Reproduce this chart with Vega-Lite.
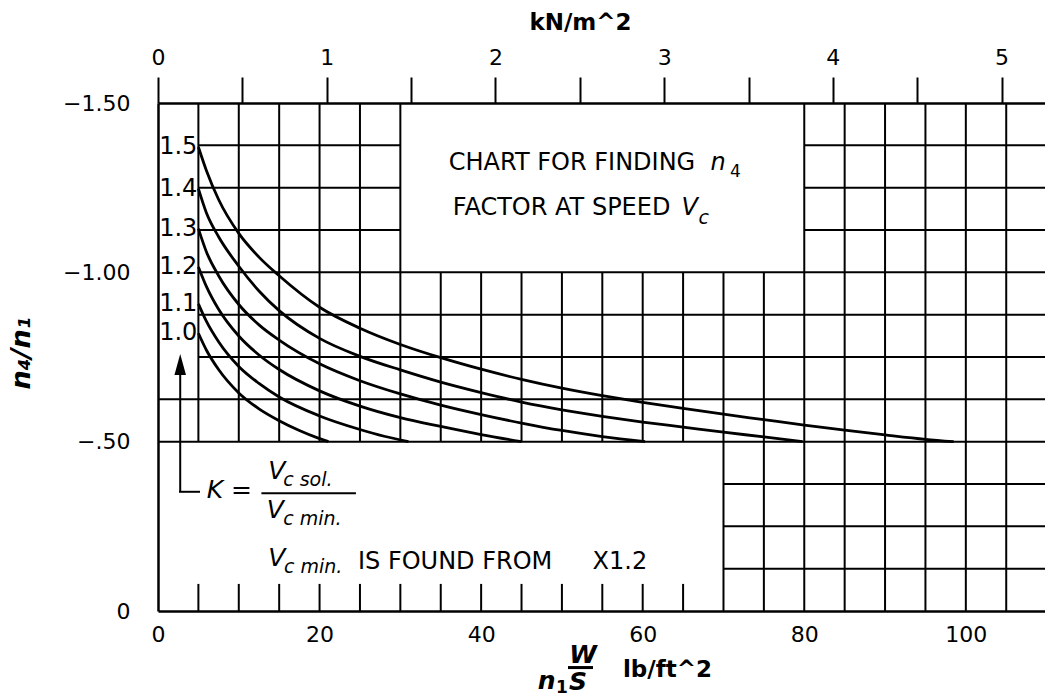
{
  "$schema": "https://vega.github.io/schema/vega-lite/v6.json",
  "width": 887,
  "height": 508,
  "autosize": {"type": "none"},
  "padding": {"left": 158, "top": 103, "right": 0, "bottom": 88},
  "background": "white",
  "config": {
    "view": {"stroke": null},
    "axis": {"domainColor": "#000", "domainWidth": 2.5, "labelColor": "#000", "labelFont": "DejaVu Sans", "titleFont": "DejaVu Sans", "titleColor": "#000", "grid": false, "tickColor": "#000", "labelFlush": false, "labelOverlap": false, "labelBound": false}
  },
  "resolve": {"axis": {"x": "independent", "y": "independent"}},
  "datasets": {
    "hgrid": [
      {"y": -1.375, "x": 5, "x2": 30}, {"y": -1.375, "x": 80, "x2": 109.8},
      {"y": -1.25, "x": 5, "x2": 30}, {"y": -1.25, "x": 80, "x2": 109.8},
      {"y": -1.125, "x": 5, "x2": 30}, {"y": -1.125, "x": 80, "x2": 109.8},
      {"y": -1.0, "x": 5, "x2": 109.8},
      {"y": -0.875, "x": 5, "x2": 109.8},
      {"y": -0.75, "x": 5, "x2": 109.8},
      {"y": -0.625, "x": 0, "x2": 109.8},
      {"y": -0.5, "x": 0, "x2": 109.8},
      {"y": -0.375, "x": 70, "x2": 109.8},
      {"y": -0.25, "x": 70, "x2": 109.8},
      {"y": -0.125, "x": 70, "x2": 109.8}
    ],
    "vgrid": [
      {"x": 5, "y": -1.5, "y2": -0.5}, {"x": 10, "y": -1.5, "y2": -0.5}, {"x": 15, "y": -1.5, "y2": -0.5},
      {"x": 20, "y": -1.5, "y2": -0.5}, {"x": 25, "y": -1.5, "y2": -0.5}, {"x": 30, "y": -1.5, "y2": -0.5},
      {"x": 35, "y": -1.0, "y2": -0.5}, {"x": 40, "y": -1.0, "y2": -0.5}, {"x": 45, "y": -1.0, "y2": -0.5},
      {"x": 50, "y": -1.0, "y2": -0.5}, {"x": 55, "y": -1.0, "y2": -0.5}, {"x": 60, "y": -1.0, "y2": -0.5},
      {"x": 65, "y": -1.0, "y2": -0.5}, {"x": 70, "y": -1.0, "y2": 0}, {"x": 75, "y": -1.0, "y2": 0},
      {"x": 80, "y": -1.5, "y2": 0}, {"x": 85, "y": -1.5, "y2": 0}, {"x": 90, "y": -1.5, "y2": 0},
      {"x": 95, "y": -1.5, "y2": 0}, {"x": 100, "y": -1.5, "y2": 0}, {"x": 105, "y": -1.5, "y2": 0}
    ],
    "ticks": [
      {"x": 5, "y": 0, "y2": -0.08}, {"x": 10, "y": 0, "y2": -0.08}, {"x": 15, "y": 0, "y2": -0.08},
      {"x": 20, "y": 0, "y2": -0.08}, {"x": 25, "y": 0, "y2": -0.08}, {"x": 30, "y": 0, "y2": -0.08},
      {"x": 35, "y": 0, "y2": -0.08}, {"x": 40, "y": 0, "y2": -0.08}, {"x": 45, "y": 0, "y2": -0.08},
      {"x": 50, "y": 0, "y2": -0.08}, {"x": 55, "y": 0, "y2": -0.08}, {"x": 60, "y": 0, "y2": -0.08},
      {"x": 65, "y": 0, "y2": -0.08}
    ],
    "curves": [
      {"K": 1.5, "x": 5, "y": -1.37}, {"K": 1.5, "x": 6, "y": -1.30}, {"K": 1.5, "x": 7.5, "y": -1.215},
      {"K": 1.5, "x": 10, "y": -1.115}, {"K": 1.5, "x": 12.5, "y": -1.045}, {"K": 1.5, "x": 15, "y": -0.99},
      {"K": 1.5, "x": 20, "y": -0.897}, {"K": 1.5, "x": 25, "y": -0.835}, {"K": 1.5, "x": 30, "y": -0.787},
      {"K": 1.5, "x": 35, "y": -0.748}, {"K": 1.5, "x": 40, "y": -0.714}, {"K": 1.5, "x": 45, "y": -0.684},
      {"K": 1.5, "x": 50, "y": -0.658}, {"K": 1.5, "x": 55, "y": -0.636}, {"K": 1.5, "x": 60, "y": -0.616},
      {"K": 1.5, "x": 65, "y": -0.598}, {"K": 1.5, "x": 70, "y": -0.581}, {"K": 1.5, "x": 75, "y": -0.565},
      {"K": 1.5, "x": 80, "y": -0.549}, {"K": 1.5, "x": 85, "y": -0.534}, {"K": 1.5, "x": 90, "y": -0.52},
      {"K": 1.5, "x": 95, "y": -0.507}, {"K": 1.5, "x": 98.5, "y": -0.5},
      {"K": 1.4, "x": 5, "y": -1.247}, {"K": 1.4, "x": 6, "y": -1.175}, {"K": 1.4, "x": 7.5, "y": -1.105},
      {"K": 1.4, "x": 10, "y": -1.018}, {"K": 1.4, "x": 12.5, "y": -0.945}, {"K": 1.4, "x": 15, "y": -0.887},
      {"K": 1.4, "x": 20, "y": -0.805}, {"K": 1.4, "x": 25, "y": -0.752}, {"K": 1.4, "x": 30, "y": -0.712},
      {"K": 1.4, "x": 35, "y": -0.676}, {"K": 1.4, "x": 40, "y": -0.645}, {"K": 1.4, "x": 45, "y": -0.617},
      {"K": 1.4, "x": 50, "y": -0.594}, {"K": 1.4, "x": 55, "y": -0.575}, {"K": 1.4, "x": 60, "y": -0.558},
      {"K": 1.4, "x": 65, "y": -0.543}, {"K": 1.4, "x": 70, "y": -0.528}, {"K": 1.4, "x": 75, "y": -0.514},
      {"K": 1.4, "x": 79.8, "y": -0.5},
      {"K": 1.3, "x": 5, "y": -1.129}, {"K": 1.3, "x": 6, "y": -1.06}, {"K": 1.3, "x": 7.5, "y": -0.99},
      {"K": 1.3, "x": 10, "y": -0.905}, {"K": 1.3, "x": 12.5, "y": -0.845}, {"K": 1.3, "x": 15, "y": -0.80},
      {"K": 1.3, "x": 20, "y": -0.73}, {"K": 1.3, "x": 25, "y": -0.68}, {"K": 1.3, "x": 30, "y": -0.641},
      {"K": 1.3, "x": 35, "y": -0.608}, {"K": 1.3, "x": 40, "y": -0.58}, {"K": 1.3, "x": 45, "y": -0.555},
      {"K": 1.3, "x": 50, "y": -0.533}, {"K": 1.3, "x": 55, "y": -0.515}, {"K": 1.3, "x": 60.3, "y": -0.5},
      {"K": 1.2, "x": 5, "y": -1.016}, {"K": 1.2, "x": 6, "y": -0.958}, {"K": 1.2, "x": 7.5, "y": -0.891},
      {"K": 1.2, "x": 10, "y": -0.812}, {"K": 1.2, "x": 12.5, "y": -0.756}, {"K": 1.2, "x": 15, "y": -0.713},
      {"K": 1.2, "x": 20, "y": -0.65}, {"K": 1.2, "x": 25, "y": -0.605}, {"K": 1.2, "x": 30, "y": -0.571},
      {"K": 1.2, "x": 35, "y": -0.545}, {"K": 1.2, "x": 40, "y": -0.521}, {"K": 1.2, "x": 45, "y": -0.5},
      {"K": 1.1, "x": 5, "y": -0.907}, {"K": 1.1, "x": 6, "y": -0.855}, {"K": 1.1, "x": 7.5, "y": -0.795},
      {"K": 1.1, "x": 10, "y": -0.722}, {"K": 1.1, "x": 12.5, "y": -0.672}, {"K": 1.1, "x": 15, "y": -0.632},
      {"K": 1.1, "x": 20, "y": -0.576}, {"K": 1.1, "x": 25, "y": -0.536}, {"K": 1.1, "x": 28, "y": -0.516},
      {"K": 1.1, "x": 31, "y": -0.5},
      {"K": 1.0, "x": 5, "y": -0.82}, {"K": 1.0, "x": 6, "y": -0.77}, {"K": 1.0, "x": 7.5, "y": -0.713},
      {"K": 1.0, "x": 10, "y": -0.644}, {"K": 1.0, "x": 12.5, "y": -0.597}, {"K": 1.0, "x": 15, "y": -0.562},
      {"K": 1.0, "x": 17.5, "y": -0.533}, {"K": 1.0, "x": 20, "y": -0.509}, {"K": 1.0, "x": 21.1, "y": -0.5}
    ],
    "boxText": [
      {"x": 36.0, "y": -1.322, "t": "CHART FOR FINDING"},
      {"x": 36.5, "y": -1.189, "t": "FACTOR AT SPEED"},
      {"x": 24.75, "y": -0.146, "t": "IS FOUND FROM"},
      {"x": 53.8, "y": -0.144, "t": "X1.2"}
    ],
    "boxItalic": [
      {"x": 68.4, "y": -1.322, "t": "n"},
      {"x": 64.8, "y": -1.189, "t": "V"}
    ],
    "boxSub": [{"x": 70.8, "y": -1.296, "t": "4"}],
    "boxSubItalic": [{"x": 66.9, "y": -1.16, "t": "c"}],
    "formula": [
      {"x": 6.03, "y": -0.357, "t": "K ="},
      {"x": 13.65, "y": -0.414, "t": "V"},
      {"x": 13.45, "y": -0.298, "t": "V"},
      {"x": 13.65, "y": -0.156, "t": "V"}
    ],
    "formulaSub": [
      {"x": 15.5, "y": -0.387, "t": "c sol."},
      {"x": 15.5, "y": -0.271, "t": "c min."},
      {"x": 15.6, "y": -0.129, "t": "c min."}
    ],
    "arrowV": [{"x": 2.75, "y": -0.352, "y2": -0.70}],
    "arrowH": [{"y": -0.352, "x": 2.6, "x2": 5.2}],
    "arrowHead": [{"x": 2.75, "y": -0.728}],
    "fracBar": [{"y": -0.3475, "x": 12.8, "x2": 24.5}],
    "xTitleBar": [{"y": 0.167, "x": 50.75, "x2": 53.85}],
    "xTitleBI": [
      {"x": 48.1, "y": 0.208, "t": "n"},
      {"x": 52.6, "y": 0.13, "t": "W"},
      {"x": 52.0, "y": 0.2085, "t": "S"}
    ],
    "xTitleSub": [{"x": 50.0, "y": 0.227, "t": "1"}],
    "xTitleUnit": [{"x": 57.55, "y": 0.174, "t": "lb/ft^2"}]
  },
  "layer": [
    {
      "data": {"name": "hgrid"},
      "mark": {"type": "rule", "color": "#000", "strokeWidth": 2},
      "encoding": {
        "y": {"field": "y", "type": "quantitative", "scale": {"domain": [-1.5, 0], "reverse": true, "nice": false, "zero": false},
          "axis": {"orient": "left", "values": [-1.5, -1, -0.5, 0],
            "labelExpr": "datum.value == 0 ? '0' : datum.value == -0.5 ? '\u2212.50' : datum.value == -1 ? '\u22121.00' : '\u22121.50'",
            "ticks": false, "labelPadding": 28, "labelFontSize": 22,
            "title": "n\u2084/n\u2081", "titleFontSize": 27, "titleFontWeight": "bold", "titleFontStyle": "italic",
            "titleAngle": 270, "titleX": -137, "titleY": 250, "titleAlign": "center", "titleBaseline": "middle"}},
        "x": {"field": "x", "type": "quantitative", "scale": {"domain": [0, 109.8], "nice": false, "zero": false},
          "axis": {"orient": "bottom", "values": [0, 20, 40, 60, 80, 100], "ticks": false, "labelPadding": 13, "labelFontSize": 22, "title": null}},
        "x2": {"field": "x2"}
      }
    },
    {
      "data": {"name": "vgrid"},
      "mark": {"type": "rule", "color": "#000", "strokeWidth": 2},
      "encoding": {
        "x": {"field": "x", "type": "quantitative",
          "axis": {"orient": "top", "values": [0, 10.4425, 20.885, 31.3275, 41.77, 52.2125, 62.655, 73.0975, 83.54, 93.9825, 104.425],
            "labelExpr": "round(datum.value / 10.4425) % 2 == 0 ? format(round(datum.value / 20.885), 'd') : ''",
            "tickSize": 26, "tickWidth": 2, "labelPadding": 8, "labelFontSize": 22,
            "title": "kN/m^2", "titleFontSize": 23, "titleFontWeight": "bold", "titleX": 422, "titleY": -81, "titleAlign": "center", "titleBaseline": "middle"}},
        "y": {"field": "y", "type": "quantitative", "axis": null},
        "y2": {"field": "y2"}
      }
    },
    {
      "data": {"name": "ticks"},
      "mark": {"type": "rule", "color": "#000", "strokeWidth": 2},
      "encoding": {
        "x": {"field": "x", "type": "quantitative", "axis": null},
        "y": {"field": "y", "type": "quantitative", "axis": null},
        "y2": {"field": "y2"}
      }
    },
    {
      "data": {"name": "curves"},
      "mark": {"type": "line", "color": "#000", "strokeWidth": 2.8, "interpolate": "monotone"},
      "encoding": {
        "x": {"field": "x", "type": "quantitative", "axis": null},
        "y": {"field": "y", "type": "quantitative", "axis": null},
        "detail": {"field": "K", "type": "nominal"}
      }
    },
    {
      "data": {"name": "curves"},
      "transform": [{"filter": "datum.x == 5"}],
      "mark": {"type": "text", "color": "#000", "font": "DejaVu Sans", "fontSize": 24, "align": "right", "baseline": "middle", "dx": -1},
      "encoding": {
        "x": {"field": "x", "type": "quantitative", "axis": null},
        "y": {"field": "y", "type": "quantitative", "axis": null},
        "text": {"field": "K", "type": "quantitative", "format": ".1f"}
      }
    },
    {
      "data": {"name": "boxText"},
      "mark": {"type": "text", "color": "#000", "font": "DejaVu Sans", "fontSize": 24, "align": "left", "baseline": "middle"},
      "encoding": {
        "x": {"field": "x", "type": "quantitative", "axis": null},
        "y": {"field": "y", "type": "quantitative", "axis": null},
        "text": {"field": "t"}
      }
    },
    {
      "data": {"name": "boxItalic"},
      "mark": {"type": "text", "color": "#000", "font": "DejaVu Sans", "fontSize": 24, "fontStyle": "italic", "align": "left", "baseline": "middle"},
      "encoding": {
        "x": {"field": "x", "type": "quantitative", "axis": null},
        "y": {"field": "y", "type": "quantitative", "axis": null},
        "text": {"field": "t"}
      }
    },
    {
      "data": {"name": "boxSub"},
      "mark": {"type": "text", "color": "#000", "font": "DejaVu Sans", "fontSize": 17, "align": "left", "baseline": "middle"},
      "encoding": {
        "x": {"field": "x", "type": "quantitative", "axis": null},
        "y": {"field": "y", "type": "quantitative", "axis": null},
        "text": {"field": "t"}
      }
    },
    {
      "data": {"name": "boxSubItalic"},
      "mark": {"type": "text", "color": "#000", "font": "DejaVu Sans", "fontSize": 19, "fontStyle": "italic", "align": "left", "baseline": "middle"},
      "encoding": {
        "x": {"field": "x", "type": "quantitative", "axis": null},
        "y": {"field": "y", "type": "quantitative", "axis": null},
        "text": {"field": "t"}
      }
    },
    {
      "data": {"name": "formula"},
      "mark": {"type": "text", "color": "#000", "font": "DejaVu Sans", "fontSize": 25, "fontStyle": "italic", "align": "left", "baseline": "middle"},
      "encoding": {
        "x": {"field": "x", "type": "quantitative", "axis": null},
        "y": {"field": "y", "type": "quantitative", "axis": null},
        "text": {"field": "t"}
      }
    },
    {
      "data": {"name": "formulaSub"},
      "mark": {"type": "text", "color": "#000", "font": "DejaVu Sans", "fontSize": 19, "fontStyle": "italic", "align": "left", "baseline": "middle"},
      "encoding": {
        "x": {"field": "x", "type": "quantitative", "axis": null},
        "y": {"field": "y", "type": "quantitative", "axis": null},
        "text": {"field": "t"}
      }
    },
    {
      "data": {"name": "arrowV"},
      "mark": {"type": "rule", "color": "#000", "strokeWidth": 2},
      "encoding": {
        "x": {"field": "x", "type": "quantitative", "axis": null},
        "y": {"field": "y", "type": "quantitative", "axis": null},
        "y2": {"field": "y2"}
      }
    },
    {
      "data": {"name": "arrowH"},
      "mark": {"type": "rule", "color": "#000", "strokeWidth": 2},
      "encoding": {
        "y": {"field": "y", "type": "quantitative", "axis": null},
        "x": {"field": "x", "type": "quantitative", "axis": null},
        "x2": {"field": "x2"}
      }
    },
    {
      "data": {"name": "arrowHead"},
      "mark": {"type": "point", "filled": true, "color": "#000", "opacity": 1, "shape": "M0,-1L0.55,1L-0.55,1Z", "size": 441},
      "encoding": {
        "x": {"field": "x", "type": "quantitative", "axis": null},
        "y": {"field": "y", "type": "quantitative", "axis": null}
      }
    },
    {
      "data": {"name": "fracBar"},
      "mark": {"type": "rule", "color": "#000", "strokeWidth": 2},
      "encoding": {
        "y": {"field": "y", "type": "quantitative", "axis": null},
        "x": {"field": "x", "type": "quantitative", "axis": null},
        "x2": {"field": "x2"}
      }
    },
    {
      "data": {"name": "xTitleBar"},
      "mark": {"type": "rule", "color": "#000", "strokeWidth": 3},
      "encoding": {
        "y": {"field": "y", "type": "quantitative", "axis": null},
        "x": {"field": "x", "type": "quantitative", "axis": null},
        "x2": {"field": "x2"}
      }
    },
    {
      "data": {"name": "xTitleBI"},
      "mark": {"type": "text", "color": "#000", "font": "DejaVu Sans", "fontSize": 25, "fontWeight": "bold", "fontStyle": "italic", "align": "center", "baseline": "middle"},
      "encoding": {
        "x": {"field": "x", "type": "quantitative", "axis": null},
        "y": {"field": "y", "type": "quantitative", "axis": null},
        "text": {"field": "t"}
      }
    },
    {
      "data": {"name": "xTitleSub"},
      "mark": {"type": "text", "color": "#000", "font": "DejaVu Sans", "fontSize": 17, "fontWeight": "bold", "align": "center", "baseline": "middle"},
      "encoding": {
        "x": {"field": "x", "type": "quantitative", "axis": null},
        "y": {"field": "y", "type": "quantitative", "axis": null},
        "text": {"field": "t"}
      }
    },
    {
      "data": {"name": "xTitleUnit"},
      "mark": {"type": "text", "color": "#000", "font": "DejaVu Sans", "fontSize": 23, "fontWeight": "bold", "align": "left", "baseline": "middle"},
      "encoding": {
        "x": {"field": "x", "type": "quantitative", "axis": null},
        "y": {"field": "y", "type": "quantitative", "axis": null},
        "text": {"field": "t"}
      }
    }
  ]
}
